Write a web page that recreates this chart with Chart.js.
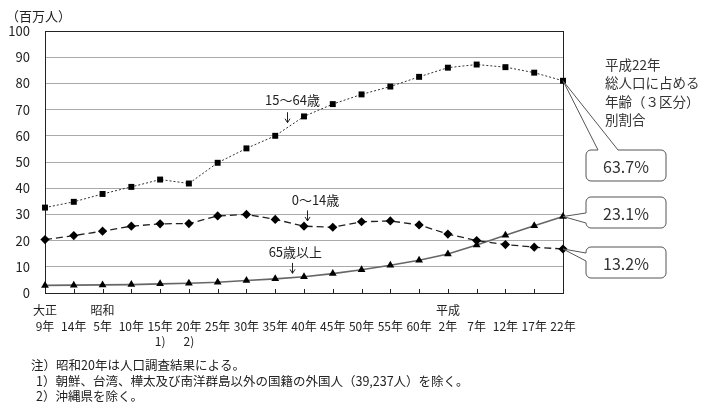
<!DOCTYPE html>
<html lang="ja">
<head>
<meta charset="utf-8">
<script src="https://cdn.jsdelivr.net/npm/chart.js@4.4.0/dist/chart.umd.min.js"></script>
<style>
  html, body { margin: 0; padding: 0; background: #fff; }
  canvas { display: block; }
</style>
</head>
<body>
<canvas id="popChart" width="710" height="411"></canvas>
<script>
// 年次（大正9年〜平成22年、5年ごと）
const eraLabels = ['大正', '', '昭和', '', '', '', '', '', '', '', '', '', '', '', '平成', '', '', '', ''];
const yearLabels = ['9年', '14年', '5年', '10年', '15年', '20年', '25年', '30年', '35年', '40年',
                    '45年', '50年', '55年', '60年', '2年', '7年', '12年', '17年', '22年'];
const noteMarks = ['', '', '', '', '1)', '2)', '', '', '', '', '', '', '', '', '', '', '', '', ''];

// 人口（百万人）
const workingAge = [32.6, 34.8, 37.8, 40.5, 43.3, 41.8, 49.7, 55.2, 60.0, 67.4,
                    72.1, 75.8, 78.8, 82.5, 86.0, 87.2, 86.2, 84.1, 81.0];   // 15〜64歳
const children   = [20.4, 21.9, 23.6, 25.5, 26.4, 26.5, 29.4, 30.0, 28.1, 25.5,
                    25.1, 27.2, 27.5, 26.0, 22.5, 20.0, 18.5, 17.5, 16.8];   // 0〜14歳
const elderly    = [2.9, 3.0, 3.1, 3.2, 3.5, 3.7, 4.1, 4.8, 5.4, 6.2,
                    7.4, 8.9, 10.6, 12.5, 14.9, 18.3, 22.0, 25.7, 29.2];      // 65歳以上

// 平成22年 総人口に占める割合
const shareLabels = ['63.7%', '23.1%', '13.2%'];

const yMin = 0, yMax = 100, yStep = 10;

const FONT = "'Noto Sans CJK JP', 'Noto Sans', sans-serif";
Chart.defaults.font.family = FONT;
Chart.defaults.color = '#222';

const labels = yearLabels.map((y, i) => {
  const l = [eraLabels[i], y];
  if (noteMarks[i]) l.push(noteMarks[i]);
  return l;
});

// series name labels with small down arrows
const seriesNotes = [
  { text: '15〜64歳', x: 8.6, y: 73.7, arrowX: 8.4, from: 69.0, to: 65.0 },
  { text: '0〜14歳',  x: 9.4, y: 35.5, arrowX: 9.1, from: 31.5, to: 27.5 },
  { text: '65歳以上', x: 8.7, y: 15.5, arrowX: 8.6, from: 11.5, to: 7.5 }
];

function arrowDown(ctx, x, y1, y2) {
  ctx.beginPath();
  ctx.moveTo(x, y1);
  ctx.lineTo(x, y2);
  ctx.moveTo(x - 2.5, y2 - 4);
  ctx.lineTo(x, y2);
  ctx.lineTo(x + 2.5, y2 - 4);
  ctx.stroke();
}

// rounded callout box with a wedge pointing to tip
function callout(ctx, b, tip, text) {
  const r = 5, x = b.x, y = b.y, w = b.w, h = b.h;
  ctx.beginPath();
  ctx.moveTo(x + r, y);
  if (b.side === 'top') {
    ctx.lineTo(b.g1, y);
    ctx.lineTo(tip.x, tip.y);
    ctx.lineTo(b.g2, y);
  }
  ctx.lineTo(x + w - r, y);
  ctx.arcTo(x + w, y, x + w, y + r, r);
  ctx.lineTo(x + w, y + h - r);
  ctx.arcTo(x + w, y + h, x + w - r, y + h, r);
  ctx.lineTo(x + r, y + h);
  ctx.arcTo(x, y + h, x, y + h - r, r);
  if (b.side === 'left') {
    ctx.lineTo(x, b.g2);
    ctx.lineTo(tip.x, tip.y);
    ctx.lineTo(x, b.g1);
  }
  ctx.lineTo(x, y + r);
  ctx.arcTo(x, y, x + r, y, r);
  ctx.closePath();
  ctx.fillStyle = '#fff';
  ctx.fill();
  ctx.strokeStyle = '#555';
  ctx.lineWidth = 1;
  ctx.stroke();
  ctx.fillStyle = '#333';
  ctx.font = '16px ' + FONT;
  ctx.textAlign = 'center';
  ctx.textBaseline = 'middle';
  ctx.fillText(text, x + w / 2, y + h / 2 + 1);
}

const decor = {
  id: 'decor',
  beforeDatasetsDraw(chart) {
    const { ctx, chartArea: a, scales } = chart;
    ctx.save();
    // small inner tick marks on the x axis
    ctx.strokeStyle = '#222';
    ctx.lineWidth = 1;
    ctx.beginPath();
    scales.x.ticks.forEach((t, i) => {
      const px = Math.round(scales.x.getPixelForTick(i)) + 0.5;
      ctx.moveTo(px, a.bottom);
      ctx.lineTo(px, a.bottom - 4);
    });
    ctx.stroke();
    // frame
    ctx.strokeStyle = '#222';
    ctx.strokeRect(Math.round(a.left) + 0.5, Math.round(a.top) + 0.5,
                   Math.round(a.width), Math.round(a.height));
    ctx.restore();
  },
  afterDraw(chart) {
    const { ctx, scales } = chart;
    const xs = scales.x, ys = scales.y;
    ctx.save();

    // unit
    ctx.fillStyle = '#222';
    ctx.font = '13px ' + FONT;
    ctx.textAlign = 'left';
    ctx.textBaseline = 'middle';
    ctx.fillText('（百万人）', 6, 16);

    // series labels
    ctx.strokeStyle = '#222';
    ctx.lineWidth = 1;
    seriesNotes.forEach(n => {
      ctx.textAlign = 'center';
      ctx.fillText(n.text, xs.getPixelForValue(n.x), ys.getPixelForValue(n.y));
      const ax = Math.round(xs.getPixelForValue(n.arrowX)) + 0.5;
      arrowDown(ctx, ax, ys.getPixelForValue(n.from), ys.getPixelForValue(n.to));
    });

    // right side heading
    ctx.textAlign = 'left';
    ctx.font = '13.5px ' + FONT;
    ctx.fillStyle = '#333';
    ['平成22年', '総人口に占める', '年齢（３区分）', '別割合'].forEach((t, i) => {
      ctx.fillText(t, 605, 65 + i * 18.3);
    });

    // callouts from the last points
    const last = workingAge.length - 1;
    const pt = idx => chart.getDatasetMeta(idx).data[last];
    callout(ctx, { x: 586, y: 150, w: 80, h: 31, side: 'top', g1: 598, g2: 618 }, pt(0), shareLabels[0]);
    callout(ctx, { x: 586, y: 197, w: 80, h: 31, side: 'left', g1: 213, g2: 223 }, pt(2), shareLabels[1]);
    callout(ctx, { x: 586, y: 247, w: 80, h: 31, side: 'left', g1: 253, g2: 261 }, pt(1), shareLabels[2]);

    // notes
    ctx.fillStyle = '#222';
    ctx.font = '12.5px ' + FONT;
    ctx.textAlign = 'left';
    ctx.textBaseline = 'middle';
    ctx.fillText('注）昭和20年は人口調査結果による。', 31, 365);
    ctx.fillText('1）朝鮮、台湾、樺太及び南洋群島以外の国籍の外国人（39,237人）を除く。', 36, 381);
    ctx.fillText('2）沖縄県を除く。', 36, 396);
    ctx.restore();
  }
};

new Chart(document.getElementById('popChart'), {
  type: 'line',
  data: {
    labels: labels,
    datasets: [
      {
        label: '15〜64歳',
        data: workingAge,
        borderColor: '#333',
        borderWidth: 1,
        borderDash: [2, 2],
        pointStyle: 'rect',
        pointRadius: 4.2,
        pointBackgroundColor: '#000',
        pointBorderColor: '#000',
        pointBorderWidth: 0,
        tension: 0,
        clip: false
      },
      {
        label: '0〜14歳',
        data: children,
        borderColor: '#222',
        borderWidth: 1.3,
        borderDash: [7, 4],
        pointStyle: 'rectRot',
        pointRadius: 4.6,
        pointBackgroundColor: '#000',
        pointBorderColor: '#000',
        pointBorderWidth: 0,
        tension: 0,
        clip: false
      },
      {
        label: '65歳以上',
        data: elderly,
        borderColor: '#666',
        borderWidth: 1.6,
        pointStyle: 'triangle',
        pointRadius: 4.5,
        pointBackgroundColor: '#000',
        pointBorderColor: '#000',
        pointBorderWidth: 0,
        tension: 0,
        clip: false
      }
    ]
  },
  options: {
    responsive: false,
    animation: false,
    layout: { padding: { left: 0, top: 31, right: 147, bottom: 0 } },
    plugins: {
      legend: { display: false },
      tooltip: { enabled: false }
    },
    scales: {
      x: {
        offset: false,
        grid: { display: false, drawTicks: false },
        border: { display: false },
        ticks: {
          autoSkip: false,
          maxRotation: 0,
          padding: 10,
          font: { size: 12, lineHeight: 1.28 },
          color: '#222'
        },
        afterFit(scale) { scale.height = 118; }
      },
      y: {
        min: yMin,
        max: yMax,
        grid: { color: '#aaa', lineWidth: 1, drawTicks: false },
        border: { display: false },
        ticks: {
          stepSize: yStep,
          padding: 15,
          font: { size: 13 },
          color: '#222'
        },
        afterFit(scale) { scale.width = 45; }
      }
    }
  },
  plugins: [decor]
});
</script>
</body>
</html>
